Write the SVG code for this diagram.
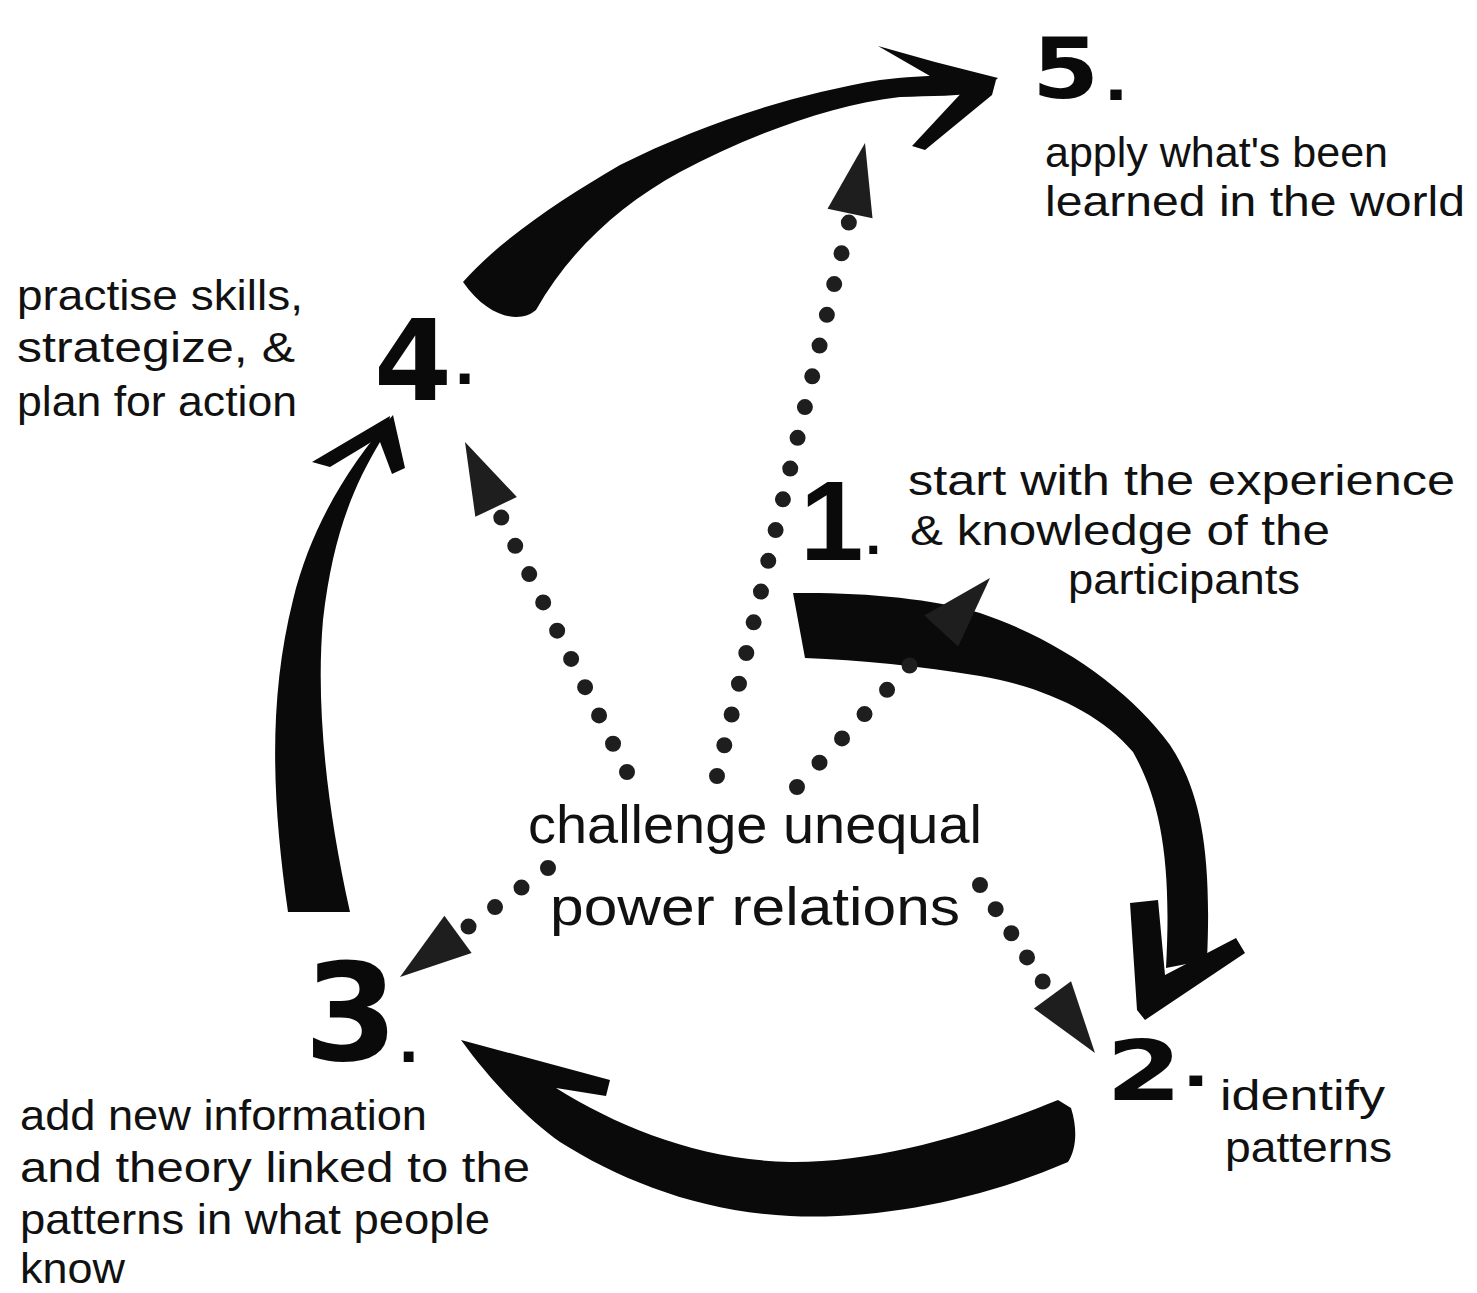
<svg xmlns="http://www.w3.org/2000/svg" xmlns:xlink="http://www.w3.org/1999/xlink" width="1477" height="1293" viewBox="0 0 1477 1293">
  <style>
    .brush { fill: #0a0a0a; stroke: none; }
    .dots { fill: none; stroke: #1e1e1e; stroke-width: 16; stroke-linecap: round; stroke-dasharray: 0 1; }
    .head { fill: #1e1e1e; }
    .num { font-family: "DejaVu Sans", "Liberation Sans", sans-serif; font-weight: bold; fill: #0a0a0a; }
    .num1 { font-family: "Liberation Sans", "DejaVu Sans", sans-serif; font-weight: bold; fill: #0a0a0a; }
    .tick { font-size: 56px; }
    .lbl { font-family: "Liberation Sans", "DejaVu Sans", sans-serif; font-size: 42px; fill: #111; }
    .core { font-family: "Liberation Sans", "DejaVu Sans", sans-serif; font-size: 54px; fill: #111; }
  </style>
  <defs>
    <!-- triangular head for the dotted connectors, tip at the origin pointing along +x -->
    <path id="dotHead" class="head" d="M0,0 L-72,-23 L-72,23 Z"/>
  </defs>
  <rect width="1477" height="1293" fill="#ffffff"/>

  <g id="connectors">
    <!-- brush arrow 4 -> 5 -->
    <g id="arrow-4-5">
      <path class="brush" d="M463,282 C500,240 560,200 620,165 C700,125 790,95 880,80 C930,74 970,74 995,80 L990,92 C960,96 930,96 900,97 C830,105 750,135 680,172 C620,205 570,250 536,310 C520,324 488,318 463,282 Z"/>
      <path class="brush" d="M878,46 L935,62 L998,78 L985,90 L930,76 Z"/>
      <path class="brush" d="M996,80 L992,95 L925,150 L912,146 L966,88 Z"/>
    </g>
    <!-- brush arrow 1 -> 2 -->
    <g id="arrow-1-2">
      <path class="brush" d="M793,593 C860,592 930,598 980,613 C1060,640 1130,690 1170,745 C1200,790 1212,850 1207,960 L1166,968 C1172,860 1160,800 1133,752 C1100,712 1040,686 980,676 C920,666 860,660 805,658 Z"/>
      <path class="brush" d="M1130,903 L1158,900 L1165,975 L1236,938 L1245,953 L1145,1020 L1137,1010 Z"/>
    </g>
    <!-- brush arrow 2 -> 3 -->
    <g id="arrow-2-3">
      <path class="brush" d="M461,1040 L610,1080 L606,1096 L556,1088 C620,1128 700,1160 790,1162 C880,1163 980,1132 1058,1100 L1071,1108 C1078,1130 1076,1150 1068,1162 C980,1200 880,1220 790,1216 C700,1212 620,1180 560,1142 C528,1120 490,1080 461,1040 Z"/>
    </g>
    <!-- brush arrow 3 -> 4 -->
    <g id="arrow-3-4">
      <path class="brush" d="M288,912 C272,800 268,700 293,600 C310,530 345,470 393,415 L405,468 L392,474 L380,442 C350,492 332,542 323,620 C316,700 325,800 350,912 Z"/>
      <path class="brush" d="M312,462 L390,416 L388,432 L330,467 Z"/>
    </g>

    <!-- dotted arrows from the centre outward -->
    <g id="dots-to-5">
      <path class="dots" pathLength="18.02" d="M717,776 L849,222"/>
      <use xlink:href="#dotHead" href="#dotHead" transform="translate(865,143) rotate(-78)"/>
    </g>
    <g id="dots-to-4">
      <path class="dots" pathLength="9.02" d="M627,772 L501,517"/>
      <use xlink:href="#dotHead" href="#dotHead" transform="translate(465,442) rotate(-115.6)"/>
    </g>
    <g id="dots-to-1">
      <path class="dots" pathLength="5.02" d="M797,787 L910,665"/>
      <use xlink:href="#dotHead" href="#dotHead" transform="translate(990,578) rotate(-47.4)"/>
    </g>
    <g id="dots-to-3">
      <path class="dots" pathLength="3.02" d="M548,868 L468,927"/>
      <use xlink:href="#dotHead" href="#dotHead" transform="translate(400,977) rotate(143.7)"/>
    </g>
    <g id="dots-to-2">
      <path class="dots" pathLength="4.02" d="M980,885 L1043,982"/>
      <use xlink:href="#dotHead" href="#dotHead" transform="translate(1095,1053) rotate(53.8)"/>
    </g>
  </g>

  <g id="node-center">
    <text class="core" x="528" y="843" textLength="454" lengthAdjust="spacingAndGlyphs">challenge unequal</text>
    <text class="core" x="550" y="925" textLength="410" lengthAdjust="spacingAndGlyphs">power relations</text>
  </g>

  <g id="node-1">
    <text class="num1" x="800" y="560" font-size="114">1<tspan class="tick" dx="2" dy="-6">.</tspan></text>
    <text class="lbl" x="908" y="495" textLength="547" lengthAdjust="spacingAndGlyphs">start with the experience</text>
    <text class="lbl" x="910" y="545" textLength="420" lengthAdjust="spacingAndGlyphs">&amp; knowledge of the</text>
    <text class="lbl" x="1068" y="594" textLength="232" lengthAdjust="spacingAndGlyphs">participants</text>
  </g>

  <g id="node-2">
    <text class="num" transform="translate(1106,1100) scale(1.3,1)" font-size="84">2<tspan class="tick" dx="0" dy="-14">.</tspan></text>
    <text class="lbl" x="1220" y="1110" textLength="165" lengthAdjust="spacingAndGlyphs">identify</text>
    <text class="lbl" x="1225" y="1162" textLength="167" lengthAdjust="spacingAndGlyphs">patterns</text>
  </g>

  <g id="node-3">
    <text class="num" x="304" y="1060" font-size="135">3<tspan class="tick" dx="0" dy="2">.</tspan></text>
    <text class="lbl" x="20" y="1130" textLength="407" lengthAdjust="spacingAndGlyphs">add new information</text>
    <text class="lbl" x="20" y="1182" textLength="510" lengthAdjust="spacingAndGlyphs">and theory linked to the</text>
    <text class="lbl" x="20" y="1234" textLength="470" lengthAdjust="spacingAndGlyphs">patterns in what people</text>
    <text class="lbl" x="20" y="1283" textLength="105" lengthAdjust="spacingAndGlyphs">know</text>
  </g>

  <g id="node-4">
    <text class="num" x="374" y="400" font-size="112">4<tspan class="tick" dx="2" dy="-16">.</tspan></text>
    <text class="lbl" x="17" y="310" textLength="286" lengthAdjust="spacingAndGlyphs">practise skills,</text>
    <text class="lbl" x="17" y="362" textLength="278" lengthAdjust="spacingAndGlyphs">strategize, &amp;</text>
    <text class="lbl" x="17" y="416" textLength="280" lengthAdjust="spacingAndGlyphs">plan for action</text>
  </g>

  <g id="node-5">
    <text class="num" transform="translate(1032,98) scale(1.15,1)" font-size="84">5<tspan class="tick" dx="4" dy="2">.</tspan></text>
    <text class="lbl" x="1045" y="167" textLength="343" lengthAdjust="spacingAndGlyphs">apply what's been</text>
    <text class="lbl" x="1045" y="216" textLength="420" lengthAdjust="spacingAndGlyphs">learned in the world</text>
  </g>
</svg>
